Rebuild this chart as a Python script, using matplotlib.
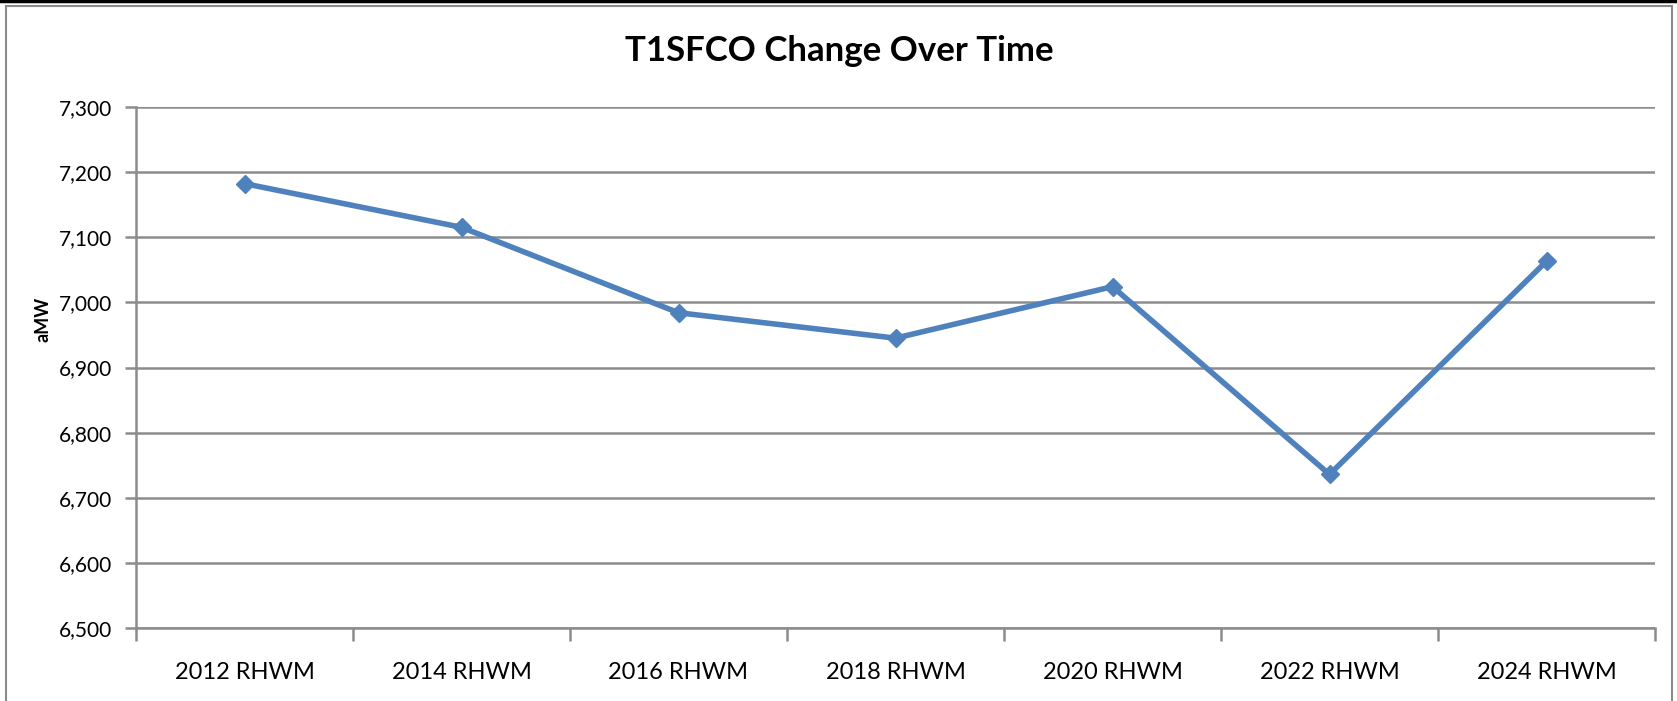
import matplotlib
matplotlib.use("Agg")
import matplotlib.pyplot as plt
from matplotlib.patches import Rectangle
from matplotlib.lines import Line2D
from matplotlib.ticker import FuncFormatter, FixedLocator

categories = ["2012 RHWM", "2014 RHWM", "2016 RHWM", "2018 RHWM",
              "2020 RHWM", "2022 RHWM", "2024 RHWM"]
values = [7182, 7115, 6984, 6945, 7024, 6736, 7063]
y_ticks = [6500, 6600, 6700, 6800, 6900, 7000, 7100, 7200, 7300]
title = "T1SFCO Change Over Time"
ylabel = "aMW"

W, H = 1677, 701
fig = plt.figure(figsize=(W / 100, H / 100), dpi=100)
plt.rcParams['font.family'] = ['Lato', 'DejaVu Sans']

left, right, top, bottom = 136, 1655, 106.7, 628.3
ax = fig.add_axes([left / W, 1 - bottom / H, (right - left) / W, (bottom - top) / H])

grid_c = "#8c8c8c"
line_c = "#4F81BD"

x = list(range(len(categories)))
ax.plot(x, values, color=line_c, lw=4.0, marker="D", markersize=9.5,
        markerfacecolor=line_c, markeredgecolor=line_c, zorder=3,
        solid_joinstyle="miter")

ax.set_xlim(-0.5, len(categories) - 0.5)
ax.set_ylim(y_ticks[0], y_ticks[-1])
ax.set_yticks(y_ticks)
ax.yaxis.set_major_formatter(FuncFormatter(lambda v, p: f"{int(v):,}"))
ax.grid(axis="y", color=grid_c, lw=1.8, zorder=1)
ax.set_axisbelow(True)

ax.set_xticks(x)
ax.set_xticklabels(categories, fontsize=17)
ax.tick_params(axis="x", which="major", length=0, pad=24, labelcolor="black")
ax.xaxis.set_minor_locator(FixedLocator([i - 0.5 for i in range(len(categories) + 1)]))
ax.tick_params(axis="x", which="minor", length=9, width=1.8, color=grid_c, direction="out")
ax.tick_params(axis="y", length=8, width=1.8, color=grid_c, labelsize=15, pad=9)

for s in ["top", "right"]:
    ax.spines[s].set_visible(False)
for s in ["left", "bottom"]:
    ax.spines[s].set_color(grid_c)
    ax.spines[s].set_linewidth(1.8)

fig.text(839 / W, 1 - 51 / H, title, ha="center", va="center",
         fontsize=25, fontweight="bold")
fig.text(43 / W, 1 - 319 / H, ylabel, ha="center", va="center",
         rotation=90, fontsize=13, fontweight="bold")

# outer chart frame
fig.add_artist(Rectangle((6 / W, -0.05), (1672 - 6) / W, 1 - 6 / H + 0.05,
                         transform=fig.transFigure, fill=False,
                         edgecolor="#8a8a8a", lw=1.5))
fig.add_artist(Line2D([0, 1], [1 - 1.2 / H, 1 - 1.2 / H], transform=fig.transFigure,
                      color="black", lw=2.5))

fig.savefig("out.png", dpi=100)
